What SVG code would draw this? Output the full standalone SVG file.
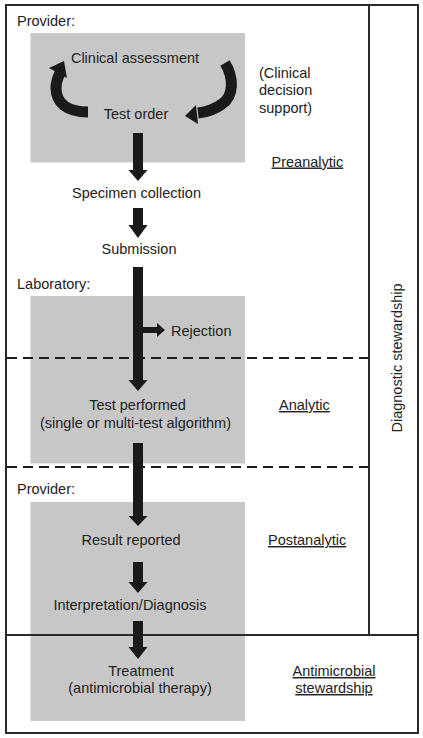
<svg xmlns="http://www.w3.org/2000/svg" width="423" height="738" viewBox="0 0 423 738">
<style>
text{font-family:"Liberation Sans",Arial,sans-serif;font-size:14.5px;fill:#222}
.m{text-anchor:middle}
.u{text-decoration:underline}
.box{fill:#c7c7c7}
.frame{fill:none;stroke:#2a2a2a;stroke-width:2}
.dash{stroke:#1a1a1a;stroke-width:2.2;stroke-dasharray:10 6}
.arr{fill:#1a1a1a}
.arc{fill:none;stroke:#1a1a1a;stroke-width:11}
</style>
<rect width="423" height="738" fill="#fff"/>
<g id="boxes">
<rect class="box" x="30.5" y="33" width="214.5" height="129.5"/>
<rect class="box" x="30.5" y="296" width="214.5" height="167.5"/>
<rect class="box" x="30.5" y="502" width="214.5" height="219"/>
</g>
<g id="frame">
<rect class="frame" x="6" y="5" width="412" height="728"/>
<line class="frame" x1="369" y1="5" x2="369" y2="635"/>
<line class="frame" x1="6" y1="635" x2="418" y2="635" stroke-width="2.5"/>
<line class="dash" x1="7" y1="358" x2="368" y2="358"/>
<line class="dash" x1="7" y1="467" x2="368" y2="467"/>
</g>
<g id="connectors">
<path class="arc" d="M88,112 C66,112 56,102 56,88 C56,81 58,77 60,73"/>
<polygon class="arr" points="64,61 49,68 67,78"/>
<path class="arc" d="M225,63 C234,78 234,96 222,104 C214,110 207,112 198,113"/>
<polygon class="arr" points="185,116 196,105 198,124"/>
<polygon class="arr" points="133,133 143,133 143,170 147.5,170 138,181 128.5,170 133,170"/>
<polygon class="arr" points="133,208 143,208 143,225 147.5,225 138,238 128.5,225 133,225"/>
<polygon class="arr" points="133,267 143,267 143,380 147.5,380 138,391 128.5,380 133,380"/>
<polygon class="arr" points="143,327 157,327 157,323 165,330 157,337 157,333 143,333"/>
<polygon class="arr" points="133,443 143,443 143,516 147.5,516 138,526 128.5,516 133,516"/>
<polygon class="arr" points="133,562 143,562 143,582 147.5,582 138,593 128.5,582 133,582"/>
<polygon class="arr" points="133,621 143,621 143,647 147.5,647 138,659 128.5,647 133,647"/>
</g>
<g id="labels">
<text x="17" y="26">Provider:</text>
<text class="m" x="135" y="62.5">Clinical assessment</text>
<text class="m" x="136" y="119">Test order</text>
<text x="259" y="77.5">(Clinical</text>
<text x="259" y="95">decision</text>
<text x="259" y="112.5">support)</text>
<text class="u" x="271.5" y="166.5">Preanalytic</text>
<text class="m" x="136.5" y="198">Specimen collection</text>
<text class="m" x="139" y="254">Submission</text>
<text x="17" y="288.5">Laboratory:</text>
<text x="171" y="335.5">Rejection</text>
<text class="m" x="137.5" y="410">Test performed</text>
<text class="m" x="135.5" y="427.5">(single or multi-test algorithm)</text>
<text class="u" x="279" y="410">Analytic</text>
<text x="17" y="493.5">Provider:</text>
<text class="m" x="131" y="545">Result reported</text>
<text class="u" x="268" y="545">Postanalytic</text>
<text class="m" x="130" y="610">Interpretation/Diagnosis</text>
<text class="m" x="141" y="676">Treatment</text>
<text class="m" x="140" y="693">(antimicrobial therapy)</text>
<text class="m u" x="334" y="676">Antimicrobial</text>
<text class="m u" x="334" y="693">stewardship</text>
<text class="m" transform="translate(402,358) rotate(-90)">Diagnostic stewardship</text>
</g>
</svg>
